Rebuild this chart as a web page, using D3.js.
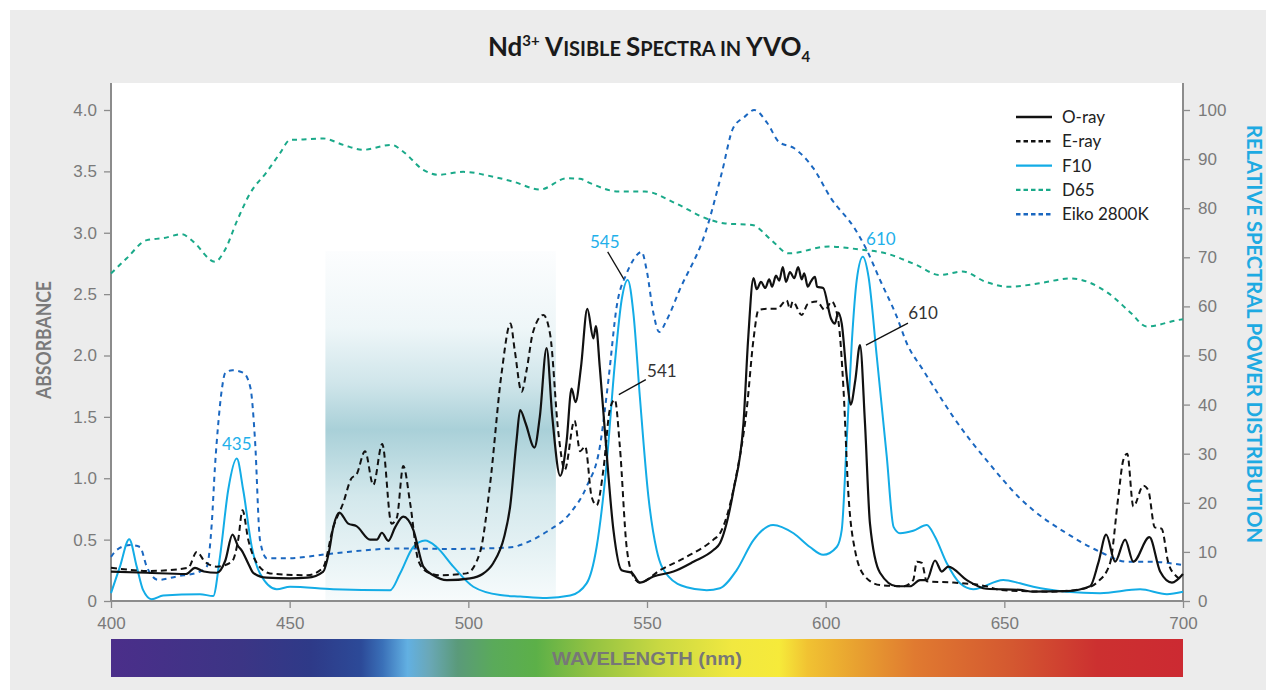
<!DOCTYPE html>
<html>
<head>
<meta charset="utf-8">
<script src="https://cdn.jsdelivr.net/npm/d3@7"></script>
<style>
  html, body { margin: 0; padding: 0; background: #fff; }
  svg { display: block; }
</style>
</head>
<body>
<div id="container"></div>
<script>
// ---- data ----
// absorbance, [wavelength nm, absorbance]
const oRay = [[400,0.24],[410,0.23],[421,0.22],[423.5,0.27],[426,0.24],[429.6,0.23],[432,0.33],[434,0.54],[435.5,0.45],[436.6,0.41],[438.5,0.3],[439.8,0.23],[443.6,0.19],[450,0.185],[455,0.19],[459.4,0.24],[461,0.4],[462.2,0.6],[463.9,0.72],[466.4,0.63],[468.7,0.61],[472.5,0.50],[474.4,0.50],[475.8,0.556],[477.6,0.49],[479.5,0.6],[481.8,0.687],[484.6,0.58],[487.4,0.28],[490.2,0.21],[494,0.17],[500.5,0.185],[504,0.22],[507,0.31],[510,0.52],[511.7,0.77],[513.5,1.31],[514.5,1.556],[516,1.45],[518.5,1.25],[520,1.5],[521.9,2.06],[523.5,1.5],[525.7,1.02],[527.5,1.3],[528.9,1.73],[530,1.62],[531.5,1.9],[533.3,2.38],[535,2.14],[535.7,2.24],[536.8,1.9],[538.2,1.39],[540.6,0.58],[542.9,0.25],[545.7,0.23],[548,0.15],[551.8,0.2],[557.4,0.24],[563,0.32],[568.6,0.415],[570.4,0.47],[574.2,0.9],[577,1.45],[578.3,2.13],[579.8,2.63],[580.7,2.54],[581.9,2.6],[583.1,2.55],[584.2,2.62],[585,2.56],[586.1,2.65],[587,2.61],[588,2.72],[588.9,2.6],[590,2.68],[591.2,2.63],[592.3,2.72],[593.3,2.62],[594,2.67],[595,2.56],[595.8,2.6],[597,2.64],[597.6,2.56],[599.3,2.55],[601.5,2.3],[602.6,2.26],[603.5,2.35],[604.5,2.26],[606,1.8],[607,1.6],[608.3,1.8],[609.6,2.085],[611,1.45],[612.4,0.63],[615.2,0.23],[619.9,0.12],[623.6,0.12],[626.4,0.17],[628.3,0.17],[630.6,0.33],[632.5,0.24],[634.3,0.28],[639.5,0.17],[645,0.1],[654.4,0.09],[658.1,0.076],[667.4,0.08],[674,0.12],[676.3,0.31],[678.5,0.54],[681,0.32],[683.8,0.5],[686.1,0.32],[690.6,0.52],[693.6,0.24],[696.9,0.15],[700,0.22]];

const eRay = [[400,0.27],[411,0.245],[421.6,0.27],[424,0.40],[426.3,0.32],[429.6,0.28],[433.8,0.32],[435.6,0.5],[436.8,0.74],[438.4,0.5],[440.8,0.31],[444.5,0.225],[455,0.21],[459.3,0.27],[462.2,0.6],[465,0.8],[467.3,1.0],[468.7,1.03],[471.1,1.22],[473.4,0.945],[475.9,1.28],[478.5,0.63],[480,0.68],[481.8,1.1],[483.7,0.8],[486,0.33],[488.3,0.24],[492,0.21],[499.5,0.225],[503.3,0.4],[506,0.93],[509.3,1.855],[511.8,2.26],[513,2.04],[514.9,1.705],[516.3,1.88],[518.1,2.19],[521,2.33],[522.9,2.17],[525.2,1.37],[527,1.07],[529.7,1.47],[531.3,1.22],[532.7,1.26],[534.5,0.85],[535.9,0.78],[537.8,1.07],[539.6,1.56],[541,1.64],[542.4,1.26],[544.3,0.44],[546.2,0.2],[548,0.15],[553.6,0.25],[561.1,0.36],[568.6,0.5],[570.4,0.55],[575.1,1.04],[577.9,1.56],[579.8,2.13],[581.2,2.37],[583.5,2.38],[586.3,2.38],[589.1,2.45],[590,2.38],[590.8,2.44],[593.3,2.33],[595,2.42],[597.5,2.44],[599.8,2.37],[601.7,2.44],[603.5,2.29],[605,1.72],[606.3,0.9],[608.2,0.415],[611,0.2],[615.2,0.13],[621.7,0.12],[624.5,0.17],[625.5,0.32],[626.9,0.31],[628.3,0.16],[635.7,0.15],[645,0.12],[648.8,0.09],[662.8,0.076],[672.1,0.1],[676.3,0.16],[679.6,0.31],[681.9,0.85],[683.3,1.15],[684.4,1.2],[686.1,0.77],[688.9,0.94],[690.3,0.9],[692.1,0.6],[694,0.59],[695.9,0.31],[698.2,0.2],[700,0.17]];

// relative spectral power, [wavelength nm, power]
const f10 = [[400,1.6],[402.5,7],[405.1,12.6],[407.2,7],[409,2.2],[411.4,0.35],[414.6,1.1],[424.9,1.4],[428.6,1],[430.5,9],[432.8,22.6],[435.2,29],[437,22.6],[439.4,11],[441.7,5.6],[446.4,2.4],[450.1,2.9],[462.2,2.4],[478.1,2.2],[480.9,5.6],[484.6,11],[487.9,12.3],[491.1,11],[495.8,7],[501.4,2.9],[508.9,1.2],[514.5,0.9],[521.9,0.6],[528.5,1.1],[533.1,3.6],[535.9,11],[538.7,28],[541,48.4],[542.9,61.3],[544.6,65.4],[546.2,58.6],[548,41.6],[550.4,21.2],[552.7,10.4],[556,5],[561.1,2.8],[566.7,2.2],[570.4,2.6],[575.1,6.3],[579.8,12.4],[585.3,15.5],[591,13.8],[595.6,11],[599.3,9.4],[603.1,11],[604.5,14.5],[605.9,32.8],[607.3,52.5],[608.7,65.4],[610.4,70.1],[612,66],[614.3,49.8],[617.1,29.4],[619,15.1],[620.8,13.8],[624.5,14.3],[628.3,15.5],[630.6,13.1],[633.9,7.7],[637.6,3.6],[641.3,2.4],[649.7,4.3],[654.4,3.6],[658.1,2.9],[667.4,1.9],[676.8,1.6],[688,2.4],[695.5,1.4],[700,1.9]];

const d65 = [[400,66.7],[404.4,69.8],[410,73.5],[414.6,73.9],[419.8,74.7],[423,73.2],[429.1,69.1],[431.9,71.5],[435.2,77.3],[438.9,83],[443.6,87.4],[447.3,91.2],[450.1,93.9],[453.8,94],[459.4,94.2],[465,92.9],[470.6,91.9],[478.5,92.9],[481.8,91.5],[487.4,87.8],[491.6,86.8],[498.6,87.4],[507,86.4],[512.6,85.4],[520.1,83.8],[527.5,86.1],[531.2,86],[534.1,85.1],[542,83.4],[549.4,83.4],[558,81],[566.6,77.9],[571.9,76.9],[579.4,76.6],[584.8,73.5],[589.6,70.8],[600.9,72.2],[609.4,71.6],[616.9,70.8],[625.5,68.4],[631.9,66.4],[638.3,67.1],[644.8,65],[651.2,64],[659.8,64.7],[668.4,65.7],[679.1,62.7],[685.5,58.6],[689.8,55.9],[698.4,57.2],[700,57.4]];

const eiko = [[400,9],[401.6,10.4],[405.3,11.4],[408.1,11],[410,7],[413.2,4.3],[418.4,5],[424.9,6],[426.8,7],[428.2,15.8],[429.1,27.4],[430,36],[431,43],[432,46.5],[434,47],[437,46.5],[439,43.5],[440.3,32.8],[441.7,12.4],[443.6,8.7],[449.2,8.7],[462.2,9.7],[480.9,10.7],[494.9,10.6],[504.2,10.7],[512.6,11],[514.5,11.4],[521.9,14.1],[528.5,17.9],[533.1,23.3],[536.8,31.4],[539.2,45],[541.5,59.9],[544.3,66.7],[546.2,69.5],[548.5,71.1],[549.9,67.4],[551.8,58.6],[553.4,54.8],[555.5,57.2],[559.1,63.3],[566.6,75.6],[570.9,87.1],[574.1,96.3],[577.3,98.6],[580,100],[583.7,97.3],[586.9,93.5],[591.2,92.2],[596.6,88.1],[601.5,82],[608,76],[611.5,71.5],[615.2,65.4],[619.9,57.9],[622.7,52.5],[627.3,47],[632,41.6],[635.7,37.5],[640.4,32.8],[645,28.7],[649.7,24.6],[654.4,20.9],[658.1,18.5],[667.4,13.8],[676.8,10],[684.3,8],[690.8,8],[700,7.3]];

const seriesNames = ["O-ray", "E-ray", "F10", "D65", "Eiko 2800K"];
const wavelengthTicks = [400, 450, 500, 550, 600, 650, 700];
const absorbanceTicks = [0, 0.5, 1.0, 1.5, 2.0, 2.5, 3.0, 3.5, 4.0];
const powerTicks = [0, 10, 20, 30, 40, 50, 60, 70, 80, 90, 100];
const highlightBand = [460, 524.5];   // shaded wavelength window
// colour bar along the wavelength axis
const spectrumStops = [[400,"#4b2e8a"],[436,"#3c3585"],[456,"#2e3a88"],[470,"#2c4a98"],[476,"#3a70b8"],[483,"#62b0e2"],[489,"#6aa8b8"],[497,"#5a9a7a"],[507,"#5aaa5a"],[519,"#5cb048"],[534,"#92c242"],[554,"#cad942"],[574,"#f1e840"],[587,"#f6ea3a"],[595,"#f1c232"],[609,"#e8a030"],[625,"#e07a30"],[652,"#d45830"],[676,"#cc3030"],[700,"#cc2a32"]];

// ---- setup ----
const width = 1276, height = 698;
const plotLeft = 111, plotRight = 1183, plotTop = 83, plotBottom = 601;

const svg = d3.select("#container").append("svg")
  .attr("width", width)
  .attr("height", height);

svg.append("rect").attr("x", 10).attr("y", 10)
  .attr("width", width - 20).attr("height", height - 18)
  .attr("fill", "#ececec");

const x = d3.scaleLinear().domain([400, 700]).range([plotLeft, plotRight]);
const yAbs = d3.scaleLinear().domain([0, 4]).range([plotBottom, 110]);
const yPow = d3.scaleLinear().domain([0, 100]).range([plotBottom, 110]);

const defs = svg.append("defs");

// plot background
svg.append("rect")
  .attr("x", plotLeft).attr("y", plotTop)
  .attr("width", plotRight - plotLeft).attr("height", plotBottom - plotTop)
  .attr("fill", "#fff");

// shaded band
const band = defs.append("linearGradient").attr("id", "bandGrad")
  .attr("x1", 0).attr("y1", 0).attr("x2", 0).attr("y2", 1);
[[0,"#fcfdfe"],[0.22,"#eef6f8"],[0.38,"#cfe5ea"],[0.51,"#a9d0d8"],[0.7,"#d3e8ec"],[1,"#f7fbfc"]]
  .forEach(s => band.append("stop").attr("offset", s[0]).attr("stop-color", s[1]));

svg.append("rect")
  .attr("x", x(highlightBand[0]))
  .attr("y", yAbs(2.85))
  .attr("width", x(highlightBand[1]) - x(highlightBand[0]))
  .attr("height", yAbs(0) - yAbs(2.85))
  .attr("fill", "url(#bandGrad)");

// ---- title ----
const title = svg.append("text")
  .attr("x", (plotLeft + plotRight) / 2 + 2)
  .attr("y", 56)
  .attr("text-anchor", "middle")
  .style("font-family", "Lato, 'Open Sans', sans-serif")
  .style("font-weight", 700)
  .style("fill", "#1a1a1a");
const titleParts = [
  ["Nd", 26, 0], ["3+", 15, -10], [" V", 26, 10], ["ISIBLE ", 20, 0], ["S", 26, 0],
  ["PECTRA ", 20, 0], ["IN ", 20, 0], ["YVO", 26, 0], ["4", 15, 6]
];
titleParts.forEach(p => title.append("tspan")
  .attr("dy", p[2]).style("font-size", p[1] + "px").text(p[0]));

// ---- axes ----
const axisColor = "#8c8c8c";
const tickFont = "'Liberation Sans', Arial, sans-serif";

function styleAxis(g) {
  g.select(".domain").remove();
  g.selectAll(".tick line").attr("stroke", axisColor).attr("stroke-width", 1.3);
  g.selectAll(".tick text")
    .style("font-family", tickFont)
    .style("font-size", "17px")
    .attr("fill", "#7a7a7a");
}

svg.append("g")
  .attr("transform", `translate(${plotLeft},0)`)
  .call(d3.axisLeft(yAbs).tickValues(absorbanceTicks).tickSize(7).tickPadding(7)
    .tickFormat(d => d === 0 ? "0" : d3.format(".1f")(d)))
  .call(styleAxis);

svg.append("g")
  .attr("transform", `translate(${plotRight},0)`)
  .call(d3.axisRight(yPow).tickValues(powerTicks).tickSize(7).tickPadding(8))
  .call(styleAxis);

svg.append("g")
  .attr("transform", `translate(0,${plotBottom})`)
  .call(d3.axisBottom(x).tickValues(wavelengthTicks).tickSize(7).tickPadding(9))
  .call(styleAxis);

// axis lines
svg.append("path")
  .attr("d", `M${plotLeft},${plotTop}V${plotBottom}H${plotRight}V${plotTop}`)
  .attr("fill", "none")
  .attr("stroke", axisColor)
  .attr("stroke-width", 2);

// axis titles
svg.append("text")
  .attr("transform", `translate(51,${(plotTop + plotBottom) / 2 - 2}) rotate(-90)`)
  .attr("text-anchor", "middle")
  .attr("textLength", 118)
  .attr("lengthAdjust", "spacingAndGlyphs")
  .style("font-family", "Lato, 'Open Sans', sans-serif")
  .style("font-weight", 700)
  .style("font-size", "20px")
  .style("fill", "#7a7a7a")
  .text("ABSORBANCE");

svg.append("text")
  .attr("transform", `translate(1247,334) rotate(90)`)
  .attr("text-anchor", "middle")
  .attr("textLength", 418)
  .attr("lengthAdjust", "spacingAndGlyphs")
  .style("font-family", "Lato, 'Open Sans', sans-serif")
  .style("font-weight", 700)
  .style("font-size", "20px")
  .style("fill", "#1eaae2")
  .text("RELATIVE SPECTRAL POWER DISTRIBUTION");

// ---- spectrum bar ----
const spec = defs.append("linearGradient").attr("id", "specGrad")
  .attr("x1", 0).attr("y1", 0).attr("x2", 1).attr("y2", 0);
spectrumStops.forEach(s => spec.append("stop")
  .attr("offset", (s[0] - 400) / 300).attr("stop-color", s[1]));

svg.append("rect")
  .attr("x", x(400)).attr("y", 639)
  .attr("width", x(700) - x(400)).attr("height", 38)
  .attr("fill", "url(#specGrad)");

svg.append("text")
  .attr("x", (plotLeft + plotRight) / 2)
  .attr("y", 665)
  .attr("text-anchor", "middle")
  .attr("textLength", 190)
  .attr("lengthAdjust", "spacingAndGlyphs")
  .style("font-family", "'Liberation Sans Narrow', 'Liberation Sans', sans-serif")
  .style("font-weight", 700)
  .style("font-size", "19px")
  .style("fill", "#777")
  .text("WAVELENGTH (nm)");

// ---- lines ----
const series = [
  {name: seriesNames[3], data: d65, y: yPow, color: "#1aa989", dash: "5,4.5", w: 2},
  {name: seriesNames[4], data: eiko, y: yPow, color: "#1a67c0", dash: "5,4.5", w: 2},
  {name: seriesNames[2], data: f10, y: yPow, color: "#13ace6", dash: null, w: 2},
  {name: seriesNames[1], data: eRay, y: yAbs, color: "#111", dash: "6,4", w: 2},
  {name: seriesNames[0], data: oRay, y: yAbs, color: "#111", dash: null, w: 2.2}
];

series.forEach(s => {
  const line = d3.line()
    .x(d => x(d[0]))
    .y(d => s.y(d[1]))
    .curve(d3.curveMonotoneX);
  svg.append("path")
    .datum(s.data)
    .attr("d", line)
    .attr("fill", "none")
    .attr("stroke", s.color)
    .attr("stroke-width", s.w)
    .attr("stroke-dasharray", s.dash)
    .attr("stroke-linejoin", "round");
});

// ---- legend ----
const legendOrder = [4, 3, 2, 0, 1];
const legend = svg.append("g").attr("transform", "translate(1016,117)");
legendOrder.forEach((idx, i) => {
  const s = series[idx];
  const row = legend.append("g").attr("transform", `translate(0,${i * 24.3})`);
  row.append("line")
    .attr("x1", 0).attr("x2", 36)
    .attr("stroke", s.color)
    .attr("stroke-width", 2.4)
    .attr("stroke-dasharray", s.dash ? "4.5,3" : null);
  row.append("text")
    .attr("x", 46).attr("y", 6)
    .style("font-family", "Lato, 'Open Sans', sans-serif")
    .style("font-size", "17px")
    .style("fill", "#222")
    .text(s.name);
});

// ---- peak annotations ----
const cyan = "#1fb0ea", dark = "#333";
const annoFont = "Lato, 'Open Sans', sans-serif";

function label(txt, px, py, color) {
  svg.append("text")
    .attr("x", px).attr("y", py)
    .attr("text-anchor", "middle")
    .style("font-family", annoFont)
    .style("font-size", "17px")
    .style("fill", color)
    .text(txt);
}
function leader(x1, y1, x2, y2) {
  svg.append("line")
    .attr("x1", x1).attr("y1", y1).attr("x2", x2).attr("y2", y2)
    .attr("stroke", "#111").attr("stroke-width", 1.3);
}

// 435 (F10)
label("435", x(435.2), yPow(29) - 9, cyan);
// 545 (F10)
label("545", x(544.6) - 23, yPow(65.4) - 32, cyan);
leader(x(544.6) - 20, yPow(65.4) - 28, x(544.6) - 4, yPow(65.4) - 1);
// 541 (E-ray)
label("541", x(541) + 47, yAbs(1.64) - 23, dark);
leader(x(541) + 31, yAbs(1.64) - 20, x(541) + 4, yAbs(1.64) - 5);
// 610 (F10)
label("610", x(610.4) + 18, yPow(70.1) - 12, cyan);
// 610 (O-ray)
label("610", x(609.6) + 63, yAbs(2.085) - 26, dark);
leader(x(609.6) + 48, yAbs(2.085) - 22, x(609.6) + 6, yAbs(2.085));
</script>
</body>
</html>
